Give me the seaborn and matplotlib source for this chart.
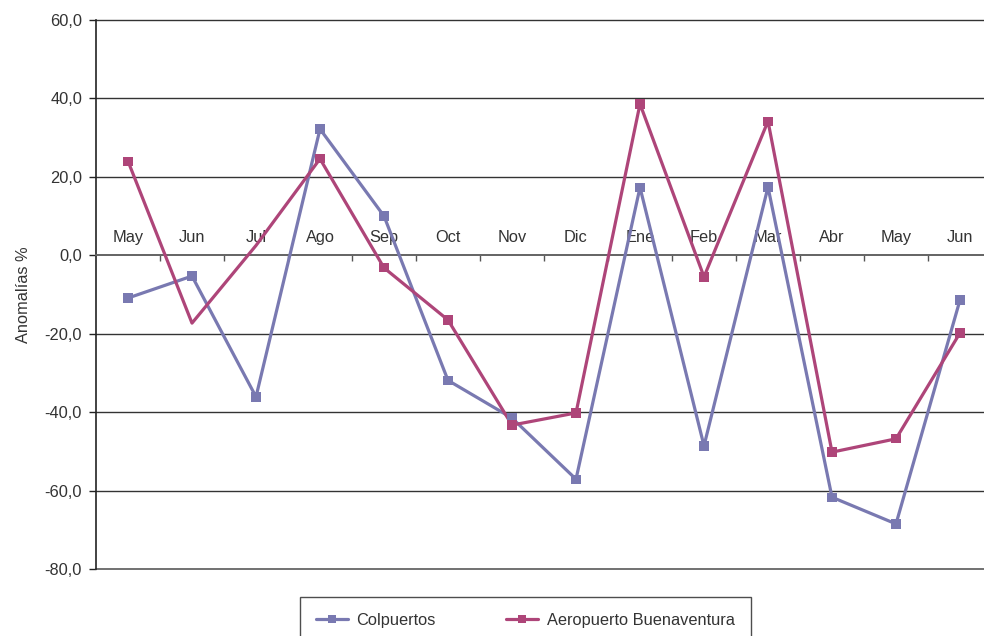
import matplotlib
matplotlib.use("Agg")
import matplotlib.pyplot as plt
from matplotlib.ticker import FixedLocator, NullFormatter
from matplotlib.lines import Line2D
import numpy as np
import pandas as pd
import seaborn as sns

# Monthly rainfall anomalies (%) for two stations
months = ["May", "Jun", "Jul", "Ago", "Sep", "Oct", "Nov", "Dic",
          "Ene", "Feb", "Mar", "Abr", "May", "Jun"]
colpuertos = [-10.9, -5.3, -36.1, 32.2, 10.0, -31.9, -41.5, -57.1,
              17.3, -48.6, 17.4, -61.7, -68.5, -11.4]
aeropuerto = [24.0, -17.3, 2.5, 24.6, -3.2, -16.5, -43.3, -40.2,
              38.6, -5.5, 34.2, -50.2, -46.8, -19.8]
# Markers shown on the Aeropuerto series (none at Jun and Jul)
aeropuerto_marker = [True, False, False, True, True, True, True, True,
                     True, True, True, True, True, True]
y_ticks = [-80, -60, -40, -20, 0, 20, 40, 60]
series_names = ["Colpuertos", "Aeropuerto Buenaventura"]
colors = {"Colpuertos": "#7979b1", "Aeropuerto Buenaventura": "#ae4579"}

sns.set_theme(style="white")
plt.rcParams["font.family"] = ["Liberation Sans", "DejaVu Sans"]
plt.rcParams["text.color"] = "#333333"
FS = 11.8

idx = np.arange(len(months))
df = pd.DataFrame({
    "pos": np.concatenate([idx, idx]),
    "valor": colpuertos + aeropuerto,
    "serie": [series_names[0]] * len(months) + [series_names[1]] * len(months),
    "marca": [True] * len(months) + aeropuerto_marker,
})

W, H = 984, 636
fig = plt.figure(figsize=(W / 100, H / 100), dpi=100)
ax = fig.add_axes([96 / W, 67 / H, 896 / W, 549 / H])

# horizontal grid lines
for v in y_ticks:
    ax.axhline(v, color="#666666" if v in (0, -80) else "#333333",
               lw=1.3 if v in (0, -80) else 1.0, zorder=1, clip_on=False)

sns.lineplot(data=df, x="pos", y="valor", hue="serie", palette=colors,
             lw=2.3, ax=ax, legend=False, zorder=3, sort=False,
             estimator=None)
sns.scatterplot(data=df[df["marca"]], x="pos", y="valor", hue="serie",
                palette=colors, marker="s", s=45, linewidth=0,
                ax=ax, legend=False, zorder=4)

ax.set_xlim(-0.5, len(months) - 0.5)
ax.set_ylim(-80, 60)
ax.set_yticks(y_ticks)
ax.set_yticklabels([f"{v:.1f}".replace(".", ",") for v in y_ticks],
                   fontsize=FS, color="#333333")
ax.tick_params(axis="y", direction="out", length=5, width=1,
               color="#222222", left=True, pad=5)

# category labels above the zero line, tick marks at month boundaries
ax.spines["bottom"].set_position(("data", 0))
ax.spines["bottom"].set_color("#666666")
ax.spines["bottom"].set_linewidth(1.3)
ax.set_xticks(idx)
ax.set_xticklabels(months, fontsize=FS, color="#333333")
ax.tick_params(axis="x", which="major", length=0, pad=-18.5)
ax.xaxis.set_minor_locator(FixedLocator(np.arange(0.5, len(months) - 0.5, 1.0)))
ax.xaxis.set_minor_formatter(NullFormatter())
ax.tick_params(axis="x", which="minor", direction="out", length=4,
               width=1, color="#555555", bottom=True)

for s in ["top", "right"]:
    ax.spines[s].set_visible(False)
ax.spines["left"].set_color("#222222")
ax.spines["left"].set_linewidth(1.2)
ax.set_xlabel("")
ax.set_ylabel("Anomalías %", fontsize=FS, color="#333333", labelpad=10)
ax.patch.set_alpha(0)

# legend
handles = [Line2D([], [], color=colors[n], lw=2.3, marker="s",
                  markersize=6, markeredgewidth=0) for n in series_names]
leg = fig.legend(handles, series_names, loc="upper left",
                 bbox_to_anchor=(300 / W, 1 - 597 / H), ncol=2,
                 frameon=True, fancybox=False, fontsize=FS,
                 handlelength=1.95, handletextpad=0.55, columnspacing=4.3,
                 borderpad=0.95, borderaxespad=0)
leg.get_frame().set_edgecolor("#222222")
leg.get_frame().set_linewidth(1.0)

fig.savefig("out.png", dpi=100)
